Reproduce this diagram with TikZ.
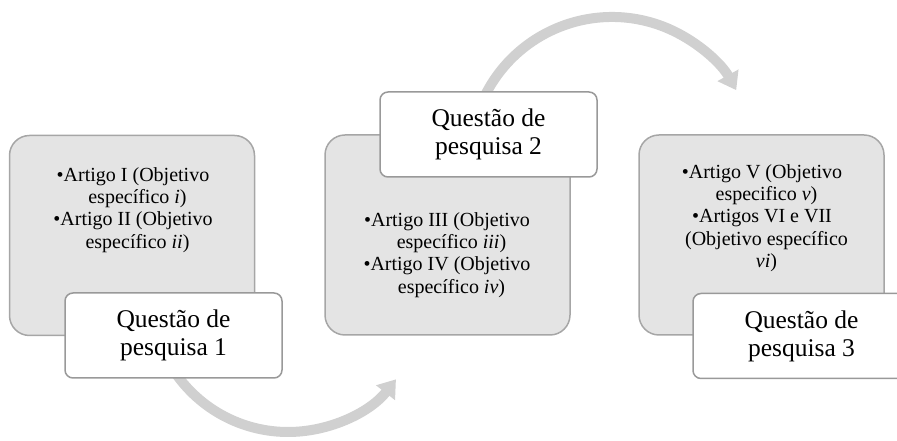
\documentclass[tikz,border=0pt]{standalone}
\usepackage{fontspec}
\setmainfont{Liberation Serif}
\usetikzlibrary{arrows.meta}
\definecolor{boxfill}{HTML}{E4E4E4}
\definecolor{boxline}{HTML}{A6A6A6}
\definecolor{qline}{HTML}{999999}
\definecolor{arrowgrey}{HTML}{D0D0D0}
\newcommand{\cont}{\hspace*{9pt}}
\tikzset{
  greybox/.style={draw=boxline, line width=1.5pt, fill=boxfill, rounded corners=20pt,
    minimum width=245pt, minimum height=200pt, inner sep=0pt},
  qbox/.style={draw=qline, line width=1.5pt, fill=white, rounded corners=8pt,
    minimum width=217pt, minimum height=85pt, inner sep=0pt, align=center,
    font=\fontsize{25.5}{28}\selectfont},
  bullettext/.style={align=center, font=\fontsize{20}{22.3}\selectfont, inner sep=0pt},
  cyclearrow/.style={draw=arrowgrey, line width=10pt,
    -{Triangle[width=23pt,length=17pt]}}
}
\begin{document}
\begin{tikzpicture}[x=1pt,y=1pt]
\useasboundingbox (0,0) rectangle (897,441);
% connectors drawn first (they pass under the boxes)
\coordinate (c1) at (288,146);
\coordinate (c2) at (612,282);
\draw[cyclearrow] ([shift={(213:137)}]c1) arc[start angle=213, end angle=322, radius=137];
\draw[cyclearrow] ([shift={(155:142)}]c2) arc[start angle=155, end angle=29, radius=142];
% grey boxes
\node[greybox] (g1) at (132,205.5) {};
\node[greybox] (g2) at (447.5,206) {};
\node[greybox] (g3) at (761.5,206) {};
% bullet texts
\node[bullettext] (t1) at (133,231) {\textbullet Artigo I (Objetivo\\ \cont específico \textit{i})\\ \textbullet Artigo II (Objetivo\\ \cont específico \textit{ii})};
\node[bullettext] (t2) at (447,186) {\textbullet Artigo III (Objetivo\\ \cont específico \textit{iii})\\ \textbullet Artigo IV (Objetivo\\ \cont específico \textit{iv})};
\node[bullettext] (t3) at (762,223) {\textbullet Artigo V (Objetivo\\ \cont especifico \textit{v})\\ \textbullet Artigos VI e VII\\ \cont(Objetivo específico\\ \cont\textit{vi})};
% question boxes
\node[qbox] (q1) at (173.5,105.5) {Questão de\\pesquisa 1};
\node[qbox] (q2) at (488.5,306.5) {Questão de\\pesquisa 2};
\node[qbox] (q3) at (801.5,105) {Questão de\\pesquisa 3};
\end{tikzpicture}
\end{document}
